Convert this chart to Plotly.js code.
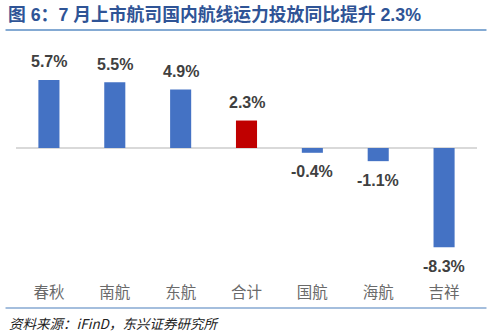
<!DOCTYPE html>
<html>
<head>
<meta charset="utf-8">
<script src="https://cdn.plot.ly/plotly-3.0.1.min.js"></script>
<style>
html,body{margin:0;padding:0;background:#fff;}
#chart{width:492px;height:336px;}
</style>
</head>
<body>
<div id="chart"></div>
<script>
const categories = ["春秋", "南航", "东航", "合计", "国航", "海航", "吉祥"];
const values = [5.7, 5.5, 4.9, 2.3, -0.4, -1.1, -8.3];
const labels = ["5.7%", "5.5%", "4.9%", "2.3%", "-0.4%", "-1.1%", "-8.3%"];
const titleText = "图 6：7 月上市航司国内航线运力投放同比提升 2.3%";
const sourceText = "资料来源：iFinD，东兴证券研究所";

const colors = categories.map(c => c === "合计" ? "#c00000" : "#4472c4");

const trace = {
  type: "bar",
  x: categories,
  y: values,
  marker: {color: colors},
  hoverinfo: "none"
};

const M = {l: 15.5, r: 14.5, t: 40, b: 55};
const plotH = 336 - M.t - M.b;
const plotW = 492 - M.l - M.r;
function py(pix) { return (336 - M.b - pix) / plotH; }
function px(pix) { return (pix - M.l) / plotW; }

const annotations = categories.map((c, i) => ({
  x: c, y: values[i], xref: "x", yref: "y",
  text: labels[i], showarrow: false,
  yanchor: "middle", xanchor: "center",
  yshift: values[i] >= 0 ? 18 : -19,
  font: {family: "Liberation Sans, Arial, sans-serif", size: 16, color: "#404040", weight: "bold"}
}));

annotations.push({
  xref: "paper", yref: "paper", x: px(5), y: py(15), xanchor: "left", yanchor: "middle",
  text: "<b>" + titleText + "</b>", showarrow: false,
  font: {family: "Liberation Sans, Noto Sans CJK SC, sans-serif", size: 17.8, color: "#2f5496"}
});

annotations.push({
  xref: "paper", yref: "paper", x: px(6), y: py(323), xanchor: "left", yanchor: "middle",
  text: sourceText, showarrow: false,
  font: {family: "Noto Sans CJK SC, sans-serif", size: 13.5, color: "#222", style: "italic"}
});

const layout = {
  width: 492, height: 336,
  margin: M,
  paper_bgcolor: "#fff", plot_bgcolor: "#fff",
  showlegend: false,
  bargap: 0.68,
  xaxis: {
    type: "category",
    showgrid: false, zeroline: false, showline: false,
    ticks: "",
    tickfont: {family: "Noto Sans CJK SC, sans-serif", size: 15.5, color: "#6a6a6a"}
  },
  yaxis: {
    range: [-11.13, 9.04],
    showgrid: false, showticklabels: false, ticks: "",
    zeroline: true, zerolinecolor: "#d9d9d9", zerolinewidth: 1.5,
    showline: false
  },
  annotations: annotations,
  shapes: [
    {type: "line", xref: "paper", yref: "paper", x0: px(5), x1: px(487), y0: py(30), y1: py(30),
     line: {color: "#5b8ec4", width: 1.5}},
    {type: "line", xref: "paper", yref: "paper", x0: px(5), x1: px(487), y0: py(308), y1: py(308),
     line: {color: "#4a7ebb", width: 1.2}}
  ]
};

Plotly.newPlot("chart", [trace], layout, {displayModeBar: false, staticPlot: true});
</script>
</body>
</html>
